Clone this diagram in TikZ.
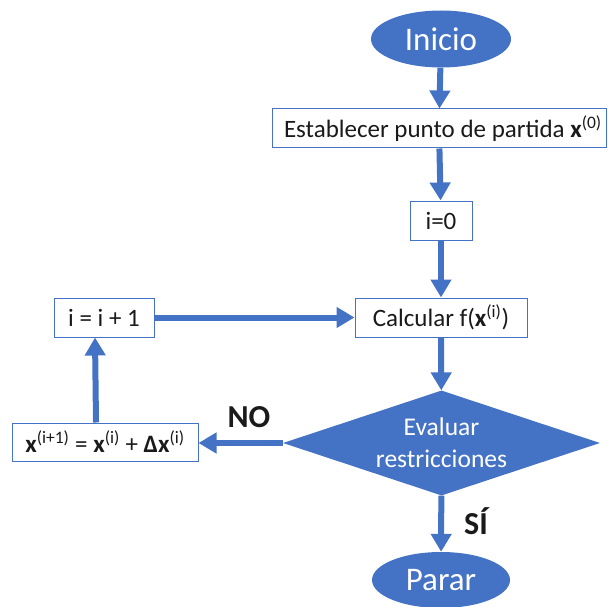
\documentclass[tikz,border=0pt]{standalone}
\usepackage{fontspec}
\setmainfont{Carlito}
\usetikzlibrary{shapes.geometric,arrows.meta}
\definecolor{ofblue}{HTML}{4472C4}
\definecolor{txt}{HTML}{1A1A1A}
\begin{document}
\begin{tikzpicture}[x=1pt,y=-1pt,
  box/.style={draw=ofblue, line width=1pt, fill=white, inner sep=0pt, minimum height=39pt, text=txt, font=\fontsize{25}{30}\selectfont},
  term/.style={ellipse, fill=ofblue, text=white, inner sep=0pt, minimum width=140pt, minimum height=57pt, font=\fontsize{33}{38}\selectfont},
  dec/.style={diamond, aspect=3, fill=ofblue, text=white, inner sep=0pt, minimum width=317pt, minimum height=105pt, align=center, font=\fontsize{25.5}{32}\selectfont},
  flow/.style={draw=ofblue, line width=6pt, -{Triangle[width=20pt,length=18pt]}},
  lbl/.style={text=txt, font=\bfseries\fontsize{32}{36}\selectfont}]
\useasboundingbox (0,0) rectangle (608,607);
\node[term] (inicio) at (441,39) {Inicio};
\node[box, minimum width=334pt, inner xsep=12pt] (est) at (439,128.5) {\makebox[310pt][l]{Establecer punto de partida \textbf{x}\textsuperscript{(0)}}};
\node[box, minimum width=62pt] (i0) at (441,220.5) {i=0};
\node[box, minimum width=172pt] (calc) at (441,317.5) {Calcular f(\textbf{x}\textsuperscript{(i)})};
\node[box, minimum width=100pt] (iinc) at (104,317.5) {i = i + 1};
\node[dec] (eval) at (441.5,443) {Evaluar\\restricciones};
\node[box, minimum width=186pt, minimum height=38pt] (xbox) at (105,442) {\textbf{x}\textsuperscript{(i+1)} = \textbf{x}\textsuperscript{(i)} + \textbf{Δx}\textsuperscript{(i)}};
\node[term, minimum width=138pt, minimum height=56pt] (parar) at (441,580) {Parar};
\node[lbl] (no) at (249,417) {NO};
\node[lbl] (si) at (476,521) {SÍ};
\draw[flow] (inicio) -- (est);
\draw[flow] (est) -- (i0);
\draw[flow] (i0) -- (calc);
\draw[flow] (calc) -- (eval);
\draw[flow] (eval.west) -- (eval.west -| xbox.east);
\draw[flow] ([xshift=-9pt]xbox.north) -- ([xshift=-9pt]iinc.south);
\draw[flow] (iinc) -- (calc);
\draw[flow] (eval) -- (parar);
\end{tikzpicture}
\end{document}
